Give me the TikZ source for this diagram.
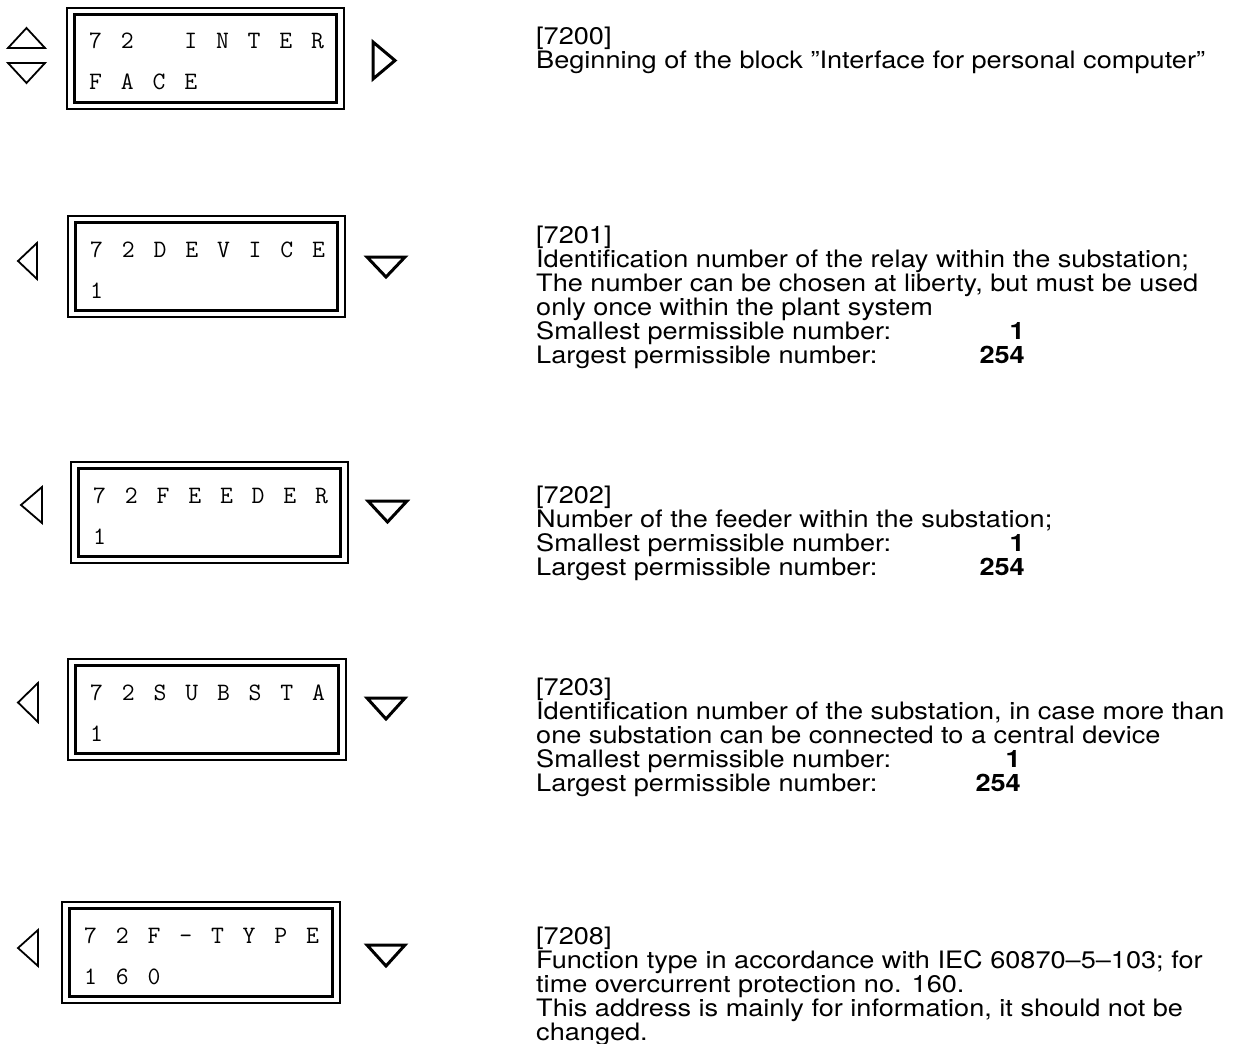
\documentclass[tikz,border=0pt]{standalone}
\usepackage{fontspec}
\setmainfont{TeX Gyre Heros}[FakeStretch=1.13]
\newcommand\lcdfont{\fontsize{25}{25}\selectfont\ttfamily}
\newcommand\descfont{\fontsize{24}{24}\selectfont}
\newcommand\lcdrow[1]{\lcdloop#1\relax}
\def\lcdloop#1{\ifx\relax#1\else\makebox[31.7pt][l]{#1}\expandafter\lcdloop\fi}
\def\pitch{24}
\tikzset{
  lcdout/.style={line width=2.4pt},
  lcdin/.style={line width=2.2pt},
  tri/.style={line width=1.8pt, line join=miter},
  tribold/.style={line width=3pt, line join=miter},
  lcdtxt/.style={anchor=base west, inner sep=0pt, font=\lcdfont},
  desc/.style={anchor=base west, inner sep=0pt, font=\descfont},
  num/.style={anchor=base east, inner sep=0pt, font=\descfont\bfseries},
}
\newcommand\lcdpanel[6]{% name, x, y, w, row1, row2
  \draw[lcdout] (#2,#3) rectangle (#2+#4,#3+101);
  \draw[lcdin] (#2+7.5,#3+6.5) rectangle (#2+#4-7.5,#3+94.5);
  \node[lcdtxt] (#1a) at (#2+22,#3+41) {\lcdrow{#5}};
  \node[lcdtxt] (#1b) at (#2+22,#3+82) {\lcdrow{#6}};
}
\newcommand\descblock[4]{% name, x, y0, lines
  \foreach \ln [count=\i] in {#4} {\node[desc] (#1-\i) at (#2,#3+\pitch*\i-\pitch) {\ln};}
}
\begin{document}
\begin{tikzpicture}[x=1pt,y=-1pt]
\useasboundingbox (0,0) rectangle (1238,1043);
% panels
\lcdpanel{p1}{67}{8}{277}{72~INTER}{FACE}
\lcdpanel{p2}{68}{216}{277}{72DEVICE}{1}
\lcdpanel{p3}{71}{462}{277}{72FEEDER}{1}
\lcdpanel{p4}{68}{659}{278}{72SUBSTA}{1}
\lcdpanel{p5}{62}{902}{278}{72F-TYPE}{160}
% keys row 1
\draw[tri] (8,48) -- (26.5,28) -- (45,48) -- cycle;
\draw[tri] (8,63) -- (45,63) -- (26.5,83) -- cycle;
\draw[tribold] (373,42) -- (395,60.5) -- (373,79) -- cycle;
% keys row 2
\draw[tri] (37,243) -- (18,261) -- (37,279) -- cycle;
\draw[tribold] (367,257) -- (405,257) -- (386,277) -- cycle;
% row 3
\draw[tri] (42,487) -- (21,505) -- (42,523) -- cycle;
\draw[tribold] (368,501) -- (407,501) -- (387.5,522) -- cycle;
% row 4
\draw[tri] (38,683) -- (18,702.5) -- (38,722) -- cycle;
\draw[tribold] (367,698) -- (405,698) -- (386,719) -- cycle;
% row 5
\draw[tri] (38,930) -- (18,948) -- (38,966) -- cycle;
\draw[tribold] (367,945) -- (405,945) -- (386,966) -- cycle;
% descriptions
\descblock{d0}{536}{45}{{[7200]},{Beginning of the block ”Interface for personal computer”}}
\descblock{d1}{536}{243}{{[7201]},{Identification number of the relay within the substation;},{The number can be chosen at liberty, but must be used},{only once within the plant system},{Smallest permissible number:},{Largest permissible number:}}
\node[num] (d1n1) at (1025,243+4*\pitch) {1};
\node[num] (d1n2) at (1025,243+5*\pitch) {254};
\descblock{d2}{536}{503}{{[7202]},{Number of the feeder within the substation;},{Smallest permissible number:},{Largest permissible number:}}
\node[num] (d2n1) at (1025,503+2*\pitch) {1};
\node[num] (d2n2) at (1025,503+3*\pitch) {254};
\descblock{d3}{536}{695}{{[7203]},{Identification number of the substation, in case more than},{one substation can be connected to a central device},{Smallest permissible number:},{Largest permissible number:}}
\node[num] (d3n1) at (1021,695+3*\pitch) {1};
\node[num] (d3n2) at (1021,695+4*\pitch) {254};
\descblock{d4}{536}{944}{{[7208]},{Function type in accordance with IEC 60870–5–103; for},{time overcurrent protection no. 160.},{This address is mainly for information, it should not be},{changed.}}
\end{tikzpicture}
\end{document}
